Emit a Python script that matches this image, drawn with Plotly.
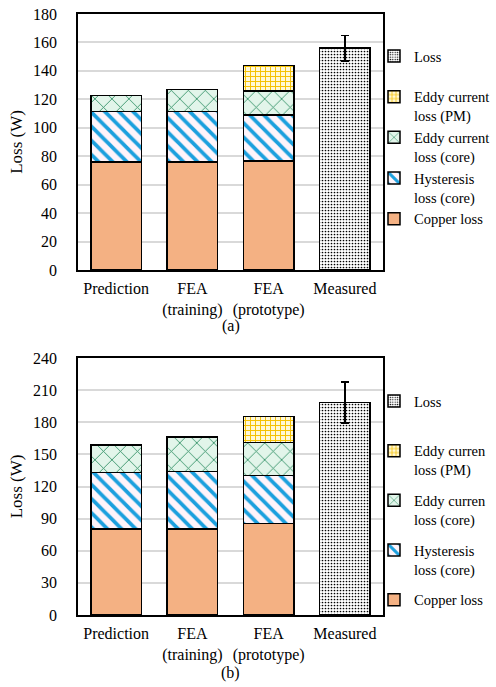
import plotly.graph_objects as go

categories = ["Prediction", "FEA<br>(training)", "FEA<br>(prototype)", "Measured"]
pred_cats = categories[:3]

# (a)
a_copper = [76.0, 76.0, 76.5]
a_hyst = [35.3, 35.3, 32.5]
a_eddy_core = [11.3, 15.5, 16.9]
a_eddy_pm = [0.0, 0.0, 17.8]
a_measured = [156.0]
a_measured_err = [9.0]

# (b)
b_copper = [80.5, 80.5, 85.5]
b_hyst = [52.5, 53.5, 44.8]
b_eddy_core = [25.6, 32.3, 30.7]
b_eddy_pm = [0.0, 0.0, 24.3]
b_measured = [198.5]
b_measured_err = [19.0]

a_ticks = [0, 20, 40, 60, 80, 100, 120, 140, 160, 180]
b_ticks = [0, 30, 60, 90, 120, 150, 180, 210, 240]

FONT = "Liberation Serif"
FS = 16
LFS = 14.5
LINE = dict(color="black", width=1.5)

styles = {
    "copper": dict(color="#F4B183", line=LINE),
    "hyst": dict(color="white", line=LINE,
                 pattern=dict(shape="\\", fgcolor="#1CA0DE", bgcolor="#FFF4FA",
                              size=10, solidity=0.38, fillmode="replace")),
    "core": dict(color="white", line=LINE,
                 pattern=dict(shape="x", fgcolor="#2F8F64", bgcolor="#E2F5EA",
                              size=12, solidity=0.14, fillmode="replace")),
    "pm": dict(color="white", line=LINE,
               pattern=dict(shape="+", fgcolor="#F5C000", bgcolor="#FFF8D8",
                            size=5, solidity=0.35, fillmode="replace")),
    "meas": dict(color="white", line=LINE,
                 pattern=dict(shape=".", fgcolor="#000000", bgcolor="#FFFFFF",
                              size=3, solidity=0.25, fillmode="replace")),
}

fig = go.Figure()

def add_panel(xa, ya, leg, copper, hyst, core, pm, meas, err, pm_name, core_name):
    fig.add_bar(x=pred_cats, y=copper, name="Copper loss", marker=styles["copper"],
                xaxis=xa, yaxis=ya, legend=leg, legendgroup=leg + "c", legendrank=5)
    fig.add_bar(x=pred_cats, y=hyst, name="Hysteresis<br>loss (core)", marker=styles["hyst"],
                xaxis=xa, yaxis=ya, legend=leg, legendgroup=leg + "h", legendrank=4)
    fig.add_bar(x=pred_cats, y=core, name=core_name, marker=styles["core"],
                xaxis=xa, yaxis=ya, legend=leg, legendgroup=leg + "e", legendrank=3)
    fig.add_bar(x=pred_cats, y=pm, name=pm_name, marker=styles["pm"],
                xaxis=xa, yaxis=ya, legend=leg, legendgroup=leg + "p", legendrank=2)
    fig.add_bar(x=[categories[3]], y=meas, name="Loss<br>\u00a0", marker=styles["meas"],
                error_y=dict(type="data", array=err, color="black", thickness=1.5, width=4),
                xaxis=xa, yaxis=ya, legend=leg, legendgroup=leg + "l", legendrank=1)

add_panel("x", "y", "legend", a_copper, a_hyst, a_eddy_core, a_eddy_pm, a_measured, a_measured_err,
          "Eddy current<br>loss (PM)", "Eddy current<br>loss (core)")
add_panel("x2", "y2", "legend2", b_copper, b_hyst, b_eddy_core, b_eddy_pm, b_measured, b_measured_err,
          "Eddy curren<br>loss (PM)", "Eddy curren<br>loss (core)")

W, H = 496, 687
xd = [78 / W, 383 / W]

tickfont = dict(family=FONT, size=FS, color="black")
xcommon = dict(showline=True, linecolor="black", linewidth=1.5, mirror=True, automargin=False,
               ticks="", tickfont=tickfont, ticklabelstandoff=3, showgrid=False,
               categoryorder="array", categoryarray=categories)
ycommon = dict(showline=True, linecolor="black", linewidth=1.5, mirror=True, automargin=False,
               ticks="", tickfont=tickfont, ticklabelstandoff=16, showgrid=True,
               gridcolor="#D9D9D9", gridwidth=1.5, zeroline=False,
               title=dict(text="Loss (W)", font=dict(family=FONT, size=FS + 1), standoff=6))

legcommon = dict(xanchor="left", yanchor="top", traceorder="grouped", valign="top",
                 itemwidth=30, font=dict(family=FONT, size=LFS), bgcolor="rgba(0,0,0,0)")

fig.update_layout(
    width=W, height=H,
    margin=dict(l=0, r=0, t=0, b=0, autoexpand=False),
    paper_bgcolor="white", plot_bgcolor="white",
    barmode="stack", bargap=0.34,
    font=dict(family=FONT, size=FS, color="black"),
    xaxis=dict(domain=xd, anchor="y", **xcommon),
    yaxis=dict(domain=[1 - 270 / H, 1 - 14 / H], anchor="x", range=[0, 180], tickvals=a_ticks, **ycommon),
    xaxis2=dict(domain=xd, anchor="y2", **xcommon),
    yaxis2=dict(domain=[1 - 615 / H, 1 - 358 / H], anchor="x2", range=[0, 240], tickvals=b_ticks, **ycommon),
    legend=dict(x=374 / W, y=1 - 40 / H, tracegroupgap=0, **legcommon),
    legend2=dict(x=374 / W, y=1 - 385 / H, tracegroupgap=9, **legcommon),
    annotations=[
        dict(text="(a)", x=0.5 * (xd[0] + xd[1]), y=1 - 326 / H, xref="paper", yref="paper",
             yanchor="middle", showarrow=False, font=dict(family=FONT, size=FS)),
        dict(text="(b)", x=0.5 * (xd[0] + xd[1]), y=1 - 673 / H, xref="paper", yref="paper",
             yanchor="middle", showarrow=False, font=dict(family=FONT, size=FS)),
    ],
)

fig.write_html("out.html", config={"displayModeBar": False},
               post_script="document.body.style.margin='0';document.body.style.overflow='hidden';")
